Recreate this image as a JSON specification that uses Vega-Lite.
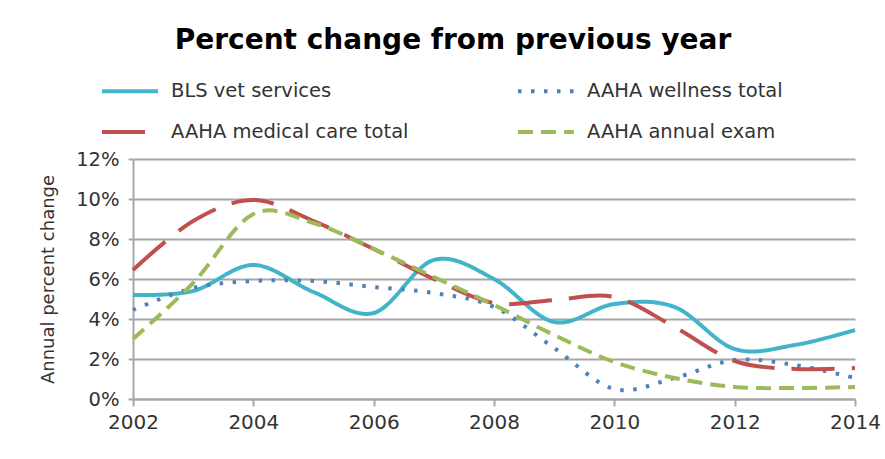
{
  "$schema": "https://vega.github.io/schema/vega-lite/v6.json",
  "autosize": "none",
  "width": 722,
  "height": 240,
  "padding": {"left": 133, "top": 159, "right": 30, "bottom": 60},
  "background": "white",
  "title": {
    "text": "Percent change from previous year",
    "font": "DejaVu Sans",
    "fontSize": 28,
    "fontWeight": "bold",
    "color": "#000000",
    "anchor": "middle",
    "dx": -41,
    "offset": 6
  },
  "config": {
    "view": {"stroke": null},
    "axis": {
      "labelFont": "DejaVu Sans",
      "labelColor": "#333333",
      "domainColor": "#a6a6a6",
      "domainWidth": 2,
      "tickColor": "#a6a6a6",
      "tickWidth": 2,
      "titleFont": "DejaVu Sans",
      "titleColor": "#333333",
      "titleFontWeight": "normal"
    }
  },
  "data": {
    "values": [
      {"year": 2002, "series": "BLS vet services", "value": 5.2},
      {"year": 2003, "series": "BLS vet services", "value": 5.4},
      {"year": 2004, "series": "BLS vet services", "value": 6.7},
      {"year": 2005, "series": "BLS vet services", "value": 5.35},
      {"year": 2006, "series": "BLS vet services", "value": 4.3},
      {"year": 2007, "series": "BLS vet services", "value": 6.95},
      {"year": 2008, "series": "BLS vet services", "value": 6.0},
      {"year": 2009, "series": "BLS vet services", "value": 3.85},
      {"year": 2010, "series": "BLS vet services", "value": 4.75},
      {"year": 2011, "series": "BLS vet services", "value": 4.6},
      {"year": 2012, "series": "BLS vet services", "value": 2.5},
      {"year": 2013, "series": "BLS vet services", "value": 2.7},
      {"year": 2014, "series": "BLS vet services", "value": 3.45},
      {"year": 2002, "series": "AAHA wellness total", "value": 4.45},
      {"year": 2003, "series": "AAHA wellness total", "value": 5.55},
      {"year": 2004, "series": "AAHA wellness total", "value": 5.9},
      {"year": 2005, "series": "AAHA wellness total", "value": 5.9},
      {"year": 2006, "series": "AAHA wellness total", "value": 5.6},
      {"year": 2007, "series": "AAHA wellness total", "value": 5.3},
      {"year": 2008, "series": "AAHA wellness total", "value": 4.6},
      {"year": 2009, "series": "AAHA wellness total", "value": 2.55},
      {"year": 2010, "series": "AAHA wellness total", "value": 0.5},
      {"year": 2011, "series": "AAHA wellness total", "value": 1.05},
      {"year": 2012, "series": "AAHA wellness total", "value": 1.95},
      {"year": 2013, "series": "AAHA wellness total", "value": 1.7},
      {"year": 2014, "series": "AAHA wellness total", "value": 1.05},
      {"year": 2002, "series": "AAHA medical care total", "value": 6.45},
      {"year": 2003, "series": "AAHA medical care total", "value": 8.9},
      {"year": 2004, "series": "AAHA medical care total", "value": 9.95},
      {"year": 2005, "series": "AAHA medical care total", "value": 8.9},
      {"year": 2006, "series": "AAHA medical care total", "value": 7.5},
      {"year": 2007, "series": "AAHA medical care total", "value": 6.0},
      {"year": 2008, "series": "AAHA medical care total", "value": 4.8},
      {"year": 2009, "series": "AAHA medical care total", "value": 4.95},
      {"year": 2010, "series": "AAHA medical care total", "value": 5.1},
      {"year": 2011, "series": "AAHA medical care total", "value": 3.6},
      {"year": 2012, "series": "AAHA medical care total", "value": 1.9},
      {"year": 2013, "series": "AAHA medical care total", "value": 1.5},
      {"year": 2014, "series": "AAHA medical care total", "value": 1.55},
      {"year": 2002, "series": "AAHA annual exam", "value": 3.0},
      {"year": 2003, "series": "AAHA annual exam", "value": 5.8},
      {"year": 2004, "series": "AAHA annual exam", "value": 9.25},
      {"year": 2005, "series": "AAHA annual exam", "value": 8.8},
      {"year": 2006, "series": "AAHA annual exam", "value": 7.5},
      {"year": 2007, "series": "AAHA annual exam", "value": 6.1},
      {"year": 2008, "series": "AAHA annual exam", "value": 4.7},
      {"year": 2009, "series": "AAHA annual exam", "value": 3.2},
      {"year": 2010, "series": "AAHA annual exam", "value": 1.85},
      {"year": 2011, "series": "AAHA annual exam", "value": 1.05},
      {"year": 2012, "series": "AAHA annual exam", "value": 0.6},
      {"year": 2013, "series": "AAHA annual exam", "value": 0.55},
      {"year": 2014, "series": "AAHA annual exam", "value": 0.6}
    ]
  },
  "mark": {"type": "line", "interpolate": "cardinal", "strokeWidth": 4, "strokeCap": "butt"},
  "encoding": {
    "x": {
      "field": "year",
      "type": "quantitative",
      "scale": {"domain": [2002, 2014], "nice": false, "zero": false},
      "axis": {
        "values": [2002, 2004, 2006, 2008, 2010, 2012, 2014],
        "format": "d",
        "grid": false,
        "title": null,
        "labelFontSize": 20,
        "tickSize": 7,
        "labelPadding": 6,
        "labelFlush": false,
        "labelOverlap": false,
        "labelBound": false
      }
    },
    "y": {
      "field": "value",
      "type": "quantitative",
      "scale": {"domain": [0, 12], "nice": false},
      "axis": {
        "values": [0, 2, 4, 6, 8, 10, 12],
        "labelExpr": "datum.value + '%'",
        "grid": true,
        "gridColor": "#a6a6a6",
        "gridWidth": 2,
        "tickSize": 5,
        "labelFontSize": 19.5,
        "labelPadding": 9,
        "title": "Annual percent change",
        "titleFontSize": 18,
        "titlePadding": 18
      }
    },
    "color": {
      "field": "series",
      "type": "nominal",
      "scale": {
        "domain": ["BLS vet services", "AAHA wellness total", "AAHA medical care total", "AAHA annual exam"],
        "range": ["#42b4c9", "#4f81bd", "#c0504d", "#9bbb59"]
      },
      "legend": {
        "title": null,
        "orient": "none",
        "legendX": -33,
        "legendY": -98,
        "columns": 2,
        "direction": "horizontal",
        "symbolType": "stroke",
        "symbolSize": 3136,
        "symbolStrokeWidth": 4,
        "labelFont": "DejaVu Sans",
        "labelFontSize": 19.5,
        "labelColor": "#333333",
        "labelLimit": 400,
        "labelOffset": 11,
        "columnPadding": 101,
        "rowPadding": 1,
        "padding": 0,
        "encode": {
          "symbols": {
            "update": {
              "strokeDash": {"signal": "datum.value === 'AAHA medical care total' ? [17, 4] : datum.value === 'AAHA annual exam' ? [13, 7] : datum.value === 'AAHA wellness total' ? [3, 8.5] : [1, 0]"}
            }
          }
        }
      }
    },
    "strokeDash": {
      "field": "series",
      "type": "nominal",
      "scale": {
        "domain": ["BLS vet services", "AAHA wellness total", "AAHA medical care total", "AAHA annual exam"],
        "range": [[1, 0], [3.5, 9.5], [43, 17], [15, 8]]
      },
      "legend": null
    }
  }
}
